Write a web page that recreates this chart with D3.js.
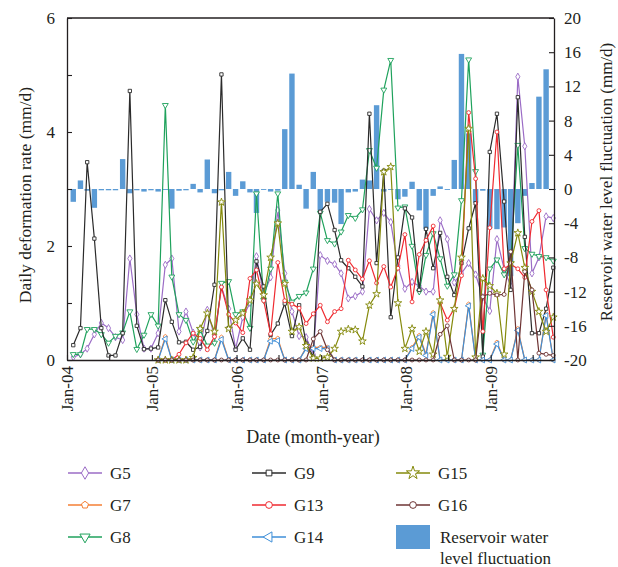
<!DOCTYPE html>
<html>
<head>
<meta charset="utf-8">
<script src="https://cdn.jsdelivr.net/npm/d3@7"></script>
<style>
  body { margin: 0; background: #fff; }
  svg text { font-family: "Liberation Serif", "Times New Roman", serif; fill: #231f20; }
</style>
</head>
<body>
<svg id="chart" width="618" height="567"></svg>
<script>
// Monthly readings, Jan 2004 - Sep 2009 (69 months)
const months = d3.range(69).map(i => new Date(2004, i, 28));

// Monthly reservoir water level fluctuation (right axis)
const water = [-1.5, 1.0, -0.2, -2.2, -0.15, -0.15, -0.15, 3.5, -0.5, -0.15, -0.3, -0.15,
  -0.3, -0.1, -2.3, -0.2, -0.15, 0.6, -0.4, 3.45, -0.5, -0.15, 2.0, -0.8,
  0.9, -0.4, -2.8, -0.1, -0.3, -0.2, 7.0, 13.5, 0.5, -2.3, 2.0, -2.5,
  -1.5, -1.6, -4.1, -0.4, -0.3, 1.1, 1.0, 9.8, -0.3, -0.1, -1.2, -0.9,
  0.85, -2.5, -4.7, -0.8, 0.3, -0.1, 3.4, 15.8, 6.5, -1.6, -0.2, -4.6,
  -4.7, -4.5, -10.2, -4.0, -0.8, 0.7, 10.8, 14.0, 0];

// Daily deformation rate of each monitoring point (left axis)
const g5 = [0.05, 0.1, 0.2, 0.45, 0.65, 0.56, 0.4, 0.35, 1.78, 0.8, 0.2, 0.2,
  0.47, 1.67, 1.78, 0.5, 0.85, 0.48, 0.22, 0.88, 0.42, 1.28, 0.9, 0.2,
  0.75, 1.0, 1.82, 1.15, 1.45, 2.63, 1.52, 0.85, 0.42, 0.4, 0.1, 1.84,
  1.74, 1.68, 1.52, 1.08, 1.12, 1.2, 2.65, 2.45, 2.58, 2.42, 1.65, 1.25,
  1.37, 1.3, 1.2, 1.2, 2.45, 2.12, 1.36, 1.52, 1.7, 1.5, 1.1, 0.86,
  2.12, 1.6, 1.3, 4.97, 3.75, 1.52, 1.8, 2.52, 2.49];

const g7 = [null, null, null, null, null, null, null, null, null, null, null, null,
  0, 0.41, 0, 0, 0, 0, 0, 0, 0, 0.4, 0, 0,
  0, 0, 0, 0, 0.37, 0.38, 0, 0, 0, 0.22, 0.22, 0.22,
  0.22, 0, 0, 0, 0, 0, 0, 0, 0, 0, 0, 0,
  0.22, 0.43, 0.1, 0.83, 0, 0, 0, 0, 0.98, 0, 0, 0,
  0.31, 0, 0, 0.55, 0, 0, 0, 0.81, 0];

const g8 = [0.1, 0.1, 0.54, 0.54, 0.45, 0.3, 0.42, 0.48, 0.85, 0.19, 0.44, 0.8,
  0.6, 4.47, 1.46, 0.8, 0.7, 0.32, 0.53, 0.25, 0.3, 1.35, 1.38, 0.8,
  0.85, 0.56, 2.92, 1.05, 1.6, 2.92, 1.37, 1.02, 1.12, 1.18, 1.6, 2.58,
  2.1, 2.04, 2.25, 2.54, 2.49, 2.64, 3.68, 3.37, 4.74, 5.26, 2.67, 2.69,
  2.0, 1.2, 1.84, 2.22, 1.78, 1.3, 1.5, 2.8, 5.27, 3.31, 0.09, 1.6,
  1.76, 1.5, 1.7, 3.77, 1.96, 1.86, 1.82, 1.8, 1.74];

const g9 = [0.26, 0.56, 3.47, 2.13, 0.56, 0.08, 0.08, 0.47, 4.72, 0.6, 0.19, 0.2,
  0.22, 1.05, 0.67, 0.31, 0.32, 0.18, 0.23, 0.51, 1.32, 5.01, 0.56, 0.18,
  0.38, 0.18, 1.73, 1.29, 0.44, 0.64, 0.99, 0.42, 0.96, 0.29, 0.06, 2.6,
  2.74, 2.28, 1.75, 1.61, 1.46, 1.29, 4.32, 1.7, 3.32, 0.75, 1.8, 2.66,
  2.5, 1.23, 2.3, 1.61, 2.23, 1.46, 1.14, 1.7, 2.31, 2.75, 0.06, 3.65,
  4.32, 2.78, 1.23, 4.61, 2.16, 0.47, 0.47, 0.9, 1.62];

const g13 = [null, null, null, null, null, null, null, null, null, null, null, null,
  0, 0, 0, 0.1, 0.3, 0.47, 0.38, 0.18, 0.41, 1.28, 0.8, 0.65,
  0.48, 1.43, 1.58, 1.04, 0.46, 1.71, 1.04, 0.98, 0.91, 0.64, 0.81, 0.96,
  0.67, 0.85, 0.9, 1.75, 1.58, 1.42, 1.74, 1.35, 1.64, 1.28, 1.61, 2.2,
  1.02, 1.85, 2.1, 2.35, 1.0, 0.7, 0.9, 1.48, 4.34, 3.18, 0.5, 2.32,
  4.0, 1.6, 1.68, 1.6, 1.45, 2.43, 2.62, 1.23, 0.4];

const g14 = [null, null, null, null, null, null, null, null, null, null, null, null,
  0, 0.37, 0, 0, 0, 0, 0, 0, 0, 0.36, 0, 0,
  0, 0, 0, 0, 0.33, 0.34, 0, 0, 0, 0.2, 0.2, 0.2,
  0.2, 0, 0, 0, 0, 0, 0, 0, 0, 0, 0, 0,
  0.2, 0.4, 0.08, 0.8, 0, 0, 0, 0, 0.95, 0, 0, 0,
  0.28, 0, 0, 0.52, 0, 0, 0, 0.78, 0];

const g15 = [null, null, null, null, null, null, null, null, null, null, null, null,
  0, 0, 0, 0, 0, 0.04, 0.55, 0.82, 0.5, 2.77, 0.55, 0.7,
  0.82, 1.05, 1.34, 1.14, 1.8, 2.4, 1.34, 0.5, 0.58, 0.25, 0.03, 0.03,
  0.05, 0.2, 0.5, 0.54, 0.53, 0.33, 0.96, 1.16, 3.3, 3.39, 1.0, 0.2,
  0.55, 0.15, 0.5, 0.1, 1.05, 0.06, 0.9, 1.8, 4.06, 0.05, 1.43, 1.3,
  1.17, 0.1, 1.7, 2.23, 1.62, 1.2, 0.85, 0.5, 0.75];

const g16 = [null, null, null, null, null, null, null, null, null, null, null, null,
  0, 0, 0, 0, 0, 0, 0, 0, 0, 0, 0, 0,
  0, 0, 0, 0, 0, 0, 0, 0, 0, 0, 0.37, 0.5,
  0.18, 0, 0, 0, 0, 0, 0, 0, 0, 0, 0, 0,
  0, 0, 0, 0, 0.45, 0.6, 0, 0, 0, 0, 1.11, 1.17,
  1.14, 1.15, 1.9, 0, 1.55, 1.23, 0.12, 0.1, 0.08];

const leftTicks = [0, 1, 2, 3, 4, 5, 6];
const rightTicks = d3.range(-20, 21, 4);
const xTickDates = d3.range(0, 69, 6).map(m => new Date(2004, m, 1));

// Pentagon marker for G7
const symbolPentagon = {
  draw(ctx, size) {
    const r = Math.sqrt(size / 2.378);
    for (let k = 0; k < 5; k++) {
      const a = -Math.PI / 2 + k * 2 * Math.PI / 5;
      const px = r * Math.cos(a), py = r * Math.sin(a);
      k === 0 ? ctx.moveTo(px, py) : ctx.lineTo(px, py);
    }
    ctx.closePath();
  }
};

const series = [
  { name: "G5",  values: g5,  color: "#9b6cc6", type: d3.symbolDiamond,  size: 15, rot: 0 },
  { name: "G7",  values: g7,  color: "#f47f35", type: symbolPentagon,    size: 11, rot: 0 },
  { name: "G8",  values: g8,  color: "#1fa25c", type: d3.symbolTriangle, size: 15, rot: 180 },
  { name: "G9",  values: g9,  color: "#2b2b2b", type: d3.symbolSquare,   size: 11, rot: 0 },
  { name: "G13", values: g13, color: "#ef2a30", type: d3.symbolCircle,   size: 12, rot: 0 },
  { name: "G14", values: g14, color: "#3f8fd8", type: d3.symbolTriangle, size: 15, rot: -90 },
  { name: "G15", values: g15, color: "#858a0c", type: d3.symbolStar,     size: 18, rot: 0 },
  { name: "G16", values: g16, color: "#6e3434", type: d3.symbolCircle,   size: 12, rot: 0 }
];

const svg = d3.select("#chart");
const L = 67, R = 554, T = 18, B = 360;

const x = d3.scaleTime().domain([new Date(2004, 0, 1), new Date(2009, 9, 1)]).range([L, R]);
const yL = d3.scaleLinear().domain([0, 6]).range([B, T]);
const yR = d3.scaleLinear().domain([-20, 20]).range([B, T]);

// Water level bars
const barW = 5.4;
svg.append("g").selectAll("rect")
  .data(water.map((v, i) => ({ d: months[i], v })))
  .join("rect")
  .attr("x", d => x(d.d) - barW / 2)
  .attr("y", d => Math.min(yR(d.v), yR(0)))
  .attr("width", barW)
  .attr("height", d => Math.max(0.9, Math.abs(yR(d.v) - yR(0))))
  .attr("fill", "#5b9bd5");

// Deformation-rate lines and markers
const line = d3.line()
  .defined(d => d.v != null)
  .x(d => x(d.d))
  .y(d => yL(d.v));

series.forEach(s => {
  const pts = s.values.map((v, i) => ({ d: months[i], v }));
  const g = svg.append("g");
  g.append("path").datum(pts)
    .attr("d", line)
    .attr("fill", "none")
    .attr("stroke", s.color)
    .attr("stroke-width", 1.2)
    .attr("stroke-linejoin", "round");
  g.selectAll("path.m")
    .data(pts.filter(p => p.v != null))
    .join("path")
    .attr("class", "m")
    .attr("d", d3.symbol().type(s.type).size(s.size))
    .attr("transform", p => `translate(${x(p.d)},${yL(p.v)}) rotate(${s.rot})`)
    .attr("fill", "#fff")
    .attr("stroke", s.color)
    .attr("stroke-width", 0.9);
});

// Axes
const axisStyle = g => {
  g.selectAll(".domain").attr("stroke", "#231f20").attr("stroke-width", 1.3);
  g.selectAll(".tick line").attr("stroke", "#231f20").attr("stroke-width", 1.1);
  g.selectAll("text").attr("font-size", 17).attr("font-family", null).attr("fill", "#231f20");
};

svg.append("g")
  .attr("transform", `translate(${L},0)`)
  .call(d3.axisLeft(yL).tickValues(leftTicks)
    .tickFormat(d => d % 2 === 0 ? d : "")
    .tickSizeInner(-5).tickSizeOuter(0).tickPadding(12))
  .call(axisStyle);

svg.append("g")
  .attr("transform", `translate(${R},0)`)
  .call(d3.axisRight(yR).tickValues(rightTicks)
    .tickFormat(d => String(d))
    .tickSizeInner(-5).tickSizeOuter(0).tickPadding(10))
  .call(axisStyle);

const fmt = d3.timeFormat("%b-%y");
svg.append("g")
  .attr("transform", `translate(0,${B})`)
  .call(d3.axisBottom(x).tickValues(xTickDates)
    .tickFormat(d => d.getMonth() === 0 ? fmt(d) : "")
    .tickSizeInner(-5).tickSizeOuter(0))
  .call(axisStyle)
  .selectAll("text")
  .attr("transform", "rotate(-90)")
  .attr("text-anchor", "end")
  .attr("x", -6)
  .attr("y", 0)
  .attr("dy", "0.35em");

// Top frame line
svg.append("line")
  .attr("x1", L).attr("x2", R).attr("y1", T).attr("y2", T)
  .attr("stroke", "#231f20").attr("stroke-width", 1.3);

// Axis titles
svg.append("text")
  .attr("transform", "translate(25,195) rotate(-90)")
  .attr("text-anchor", "middle").attr("dy", "0.35em")
  .attr("font-size", 17.5)
  .text("Daily deformation rate (mm/d)");

svg.append("text")
  .attr("transform", "translate(606,182) rotate(-90)")
  .attr("text-anchor", "middle").attr("dy", "0.35em")
  .attr("font-size", 17)
  .text("Reservoir water level fluctuation (mm/d)");

svg.append("text")
  .attr("x", 313).attr("y", 437)
  .attr("text-anchor", "middle").attr("dy", "0.35em")
  .attr("font-size", 18)
  .text("Date (month-year)");

// Legend
const legCols = [68, 252, 396];
const legRows = [473, 505, 537];
const legOrder = ["G5", "G7", "G8", "G9", "G13", "G14", "G15", "G16"];
const leg = svg.append("g");
legOrder.forEach((name, k) => {
  const s = series.find(d => d.name === name);
  const cx = legCols[Math.floor(k / 3)], cy = legRows[k % 3];
  leg.append("line")
    .attr("x1", cx).attr("x2", cx + 34).attr("y1", cy).attr("y2", cy)
    .attr("stroke", s.color).attr("stroke-width", 1.3);
  leg.append("path")
    .attr("d", d3.symbol().type(s.type).size(s.size * 3))
    .attr("transform", `translate(${cx + 17},${cy}) rotate(${s.rot})`)
    .attr("fill", "#fff").attr("stroke", s.color).attr("stroke-width", 1);
  leg.append("text")
    .attr("x", cx + 42).attr("y", cy).attr("dy", "0.35em")
    .attr("font-size", 17)
    .text(name);
});
leg.append("rect")
  .attr("x", legCols[2]).attr("y", 525)
  .attr("width", 34).attr("height", 24)
  .attr("fill", "#5b9bd5");
leg.append("text")
  .attr("x", legCols[2] + 44).attr("y", 537).attr("dy", "0.35em")
  .attr("font-size", 17).text("Reservoir water");
leg.append("text")
  .attr("x", legCols[2] + 44).attr("y", 558).attr("dy", "0.35em")
  .attr("font-size", 17).text("level fluctuation");
</script>
</body>
</html>
